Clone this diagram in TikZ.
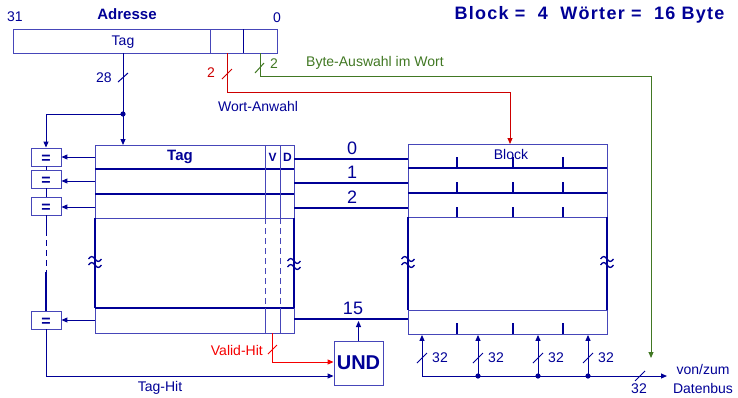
\documentclass[tikz,border=0pt]{standalone}
\usepackage{fontspec}
\setmainfont{Liberation Sans}
\usetikzlibrary{arrows.meta}
\definecolor{bl}{RGB}{0,0,150}
\definecolor{lbl}{RGB}{70,70,185}
\definecolor{gr}{RGB}{65,120,35}
\definecolor{rd}{RGB}{205,0,0}
\definecolor{rdt}{RGB}{245,0,0}
\newcommand{\wavemark}[2]{%
  \draw[draw=bl,line width=1.3pt] (#1-6.5,#2-3) sin (#1-3.25,#2-5.5) cos (#1,#2-3) sin (#1+3.25,#2-0.5) cos (#1+6.5,#2-3);
  \draw[draw=bl,line width=1.3pt] (#1-6.5,#2+3) sin (#1-3.25,#2+0.5) cos (#1,#2+3) sin (#1+3.25,#2+5.5) cos (#1+6.5,#2+3);}
\begin{document}
\begin{tikzpicture}[x=1pt,y=-1pt,
  font=\fontsize{14}{16}\selectfont,
  lbox/.style={draw=lbl,line width=0.9pt,inner sep=0pt},
  sep/.style={draw=bl,line width=1.3pt},
  thk/.style={draw=bl,line width=2pt},
  conn/.style={draw=bl,line width=1pt},
  arr/.style={-{Triangle[length=6pt,width=5pt]}},
  bt/.style={text=bl,inner sep=0pt},
  eqbox/.style={lbox,minimum width=30pt,minimum height=18pt},
  tick/.style={draw=bl,line width=1.5pt},
  num/.style={text=bl,inner sep=0pt,font=\fontsize{18}{18}\selectfont}]
\useasboundingbox (0,0) rectangle (738,397);

% ---------- address ----------
\node[bt] (n31) at (15,17) {31};
\node[bt,font=\bfseries\fontsize{15}{15}\selectfont] (adr) at (127,14) {Adresse};
\node[bt] (n0) at (277,18) {0};
\node[bt,font=\bfseries\fontsize{18}{18}\selectfont\addfontfeature{LetterSpace=7}] (title) at (589.5,15) {Block =\ \ 4\ \ Wörter =\ \ 16 Byte};
\node[lbox,minimum width=264pt,minimum height=24pt,anchor=north west] (addr) at (13,29) {};
\draw[draw=lbl,line width=0.9pt] (210,29) -- (210,53);
\draw[draw=bl,line width=0.9pt] (243,29) -- (243,53);
\node[bt] (tagf) at (123,42) {Tag};

% ---------- tag array ----------
\node[lbox,minimum width=199pt,minimum height=73pt,anchor=north west] (tagarr) at (95,145) {};
\draw[sep] (95,169) -- (294,169);
\draw[sep] (95,194) -- (294,194);
\draw[lbox] (265,145) -- (265,218);
\draw[lbox] (280,145) -- (280,218);
\node[bt,font=\bfseries\fontsize{15}{15}\selectfont] (tagh) at (180,157) {Tag};
\node[bt,font=\bfseries\fontsize{12}{12}\selectfont] (vh) at (272.5,157) {V};
\node[bt,font=\bfseries\fontsize{12}{12}\selectfont] (dh) at (287.5,157) {D};
\draw[thk] (95,218) -- (95,308);
\draw[thk] (294,218) -- (294,308);
\draw[lbox,dash pattern=on 6pt off 4pt] (265,218) -- (265,308);
\draw[lbox,dash pattern=on 6pt off 4pt] (280,218) -- (280,308);
\node[lbox,minimum width=199pt,minimum height=25pt,anchor=north west] (tagrow) at (95,308) {};
\draw[sep] (95,308) -- (294,308);
\draw[lbox] (265,308) -- (265,333);
\draw[lbox] (280,308) -- (280,333);
\wavemark{95}{262}
\wavemark{294}{264}

% ---------- comparators ----------
\node[eqbox] (eq1) at (46,157) {};
\node[eqbox] (eq2) at (46,179) {};
\node[eqbox] (eq3) at (46,206) {};
\node[eqbox] (eq4) at (46,320) {};
\foreach \e in {eq1,eq2,eq3,eq4}
  \node[bt,font=\bfseries\fontsize{16}{16}\selectfont] at ([yshift=-2.5pt]\e.center) {=};
\coordinate (a1) at (95,157);
\coordinate (a2) at (95,181);
\coordinate (a3) at (95,207);
\coordinate (a4) at (95,320);
\draw[conn,arr] (a1) -- (eq1.east |- a1);
\draw[conn,arr] (a2) -- (eq2.east |- a2);
\draw[conn,arr] (a3) -- (eq3.east |- a3);
\draw[conn,arr] (a4) -- (eq4.east |- a4);
\draw[conn] (eq1.south) -- (eq2.north);
\draw[conn] (eq2.south) -- (eq3.north);
\coordinate (d1) at (46,230);
\coordinate (d2) at (46,272);
\draw[conn] (eq3.south) -- (d1);
\draw[conn,dash pattern=on 6pt off 4pt] (d1) -- (d2);
\draw[line width=2pt,draw=bl] (d2) -- (eq4.north);

% tag path
\coordinate (tsrc) at (123,53);
\coordinate (J) at (123,114);
\draw[conn] (tsrc) -- (J);
\fill[bl] (J) circle (2.6pt);
\draw[conn,arr] (J) -- (tagarr.north -| J);
\draw[conn,arr] (J) -| (eq1.north);
\draw[conn] (118,82) -- (128,73);
\node[bt] (n28) at (104,78) {28};

% ---------- block array ----------
\node[lbox,minimum width=199pt,minimum height=73pt,anchor=north west] (blk) at (408,144) {};
\draw[sep] (408,168) -- (607,168);
\draw[sep] (408,193) -- (607,193);
\node[bt] (blkt) at (511,154) {Block};
\foreach \x in {457,513,563} {
  \draw[tick] (\x,157) -- (\x,168);
  \draw[tick] (\x,182) -- (\x,193);
  \draw[tick] (\x,207) -- (\x,217);
  \draw[tick] (\x,323) -- (\x,334);
}
\draw[thk] (408,217) -- (408,310);
\draw[thk] (607,217) -- (607,310);
\node[lbox,minimum width=199pt,minimum height=24pt,anchor=north west] (blkrow) at (408,310) {};
\wavemark{408}{262}
\wavemark{607}{262}

% row lines
\draw[thk] (294,159) -- (408,159);
\draw[thk] (294,183) -- (408,183);
\draw[thk] (294,208) -- (408,208);
\draw[thk] (294,319) -- (408,319);
\node[num] (r0) at (352,148) {0};
\node[num] (r1) at (352,172) {1};
\node[num] (r2) at (352,197) {2};
\node[num] (r15) at (353,308) {15};

% ---------- word select (red) ----------
\coordinate (rsrc) at (227,53);
\coordinate (rk) at (510,92);
\draw[draw=rd,line width=1pt,arr] (rsrc) |- (rk) -- (blk.north -| rk);
\draw[draw=rd,line width=1pt] (222,79) -- (232,69);
\node[bt,text=rd] (r2l) at (211,73) {2};
\node[bt] (wa) at (258,106) {Wort-Anwahl};

% ---------- byte select (green) ----------
\coordinate (gsrc) at (260,53);
\coordinate (gk) at (651,76);
\coordinate (gend) at (651,358);
\draw[draw=gr,line width=1pt,arr] (gsrc) |- (gk) -- (gend);
\draw[draw=gr,line width=1pt] (255,73) -- (264,63);
\node[bt,text=gr] (g2) at (274,64) {2};
\node[bt,text=gr,anchor=west] (ba) at (306,63) {Byte-Auswahl im Wort};

% ---------- UND ----------
\node[lbox,minimum width=49pt,minimum height=44pt,font=\bfseries\fontsize{20}{20}\selectfont,text=bl] (und) at (358.5,363) {UND};
\coordinate (u15) at (358.5,321);
\draw[conn,arr] (und.north) -- (u15);
\coordinate (yTH) at (0,376);
\coordinate (yVH) at (0,362);
\draw[conn,arr] (eq4.south) |- (und.west |- yTH);
\node[bt] (th) at (160,388) {Tag-Hit};
\coordinate (vsrc) at (272,333);
\draw[draw=rdt,line width=1pt,arr] (vsrc) |- (und.west |- yVH);
\draw[draw=rdt,line width=0.8pt] (268,354) -- (277,345);
\node[bt,text=rdt,anchor=east] (vhl) at (263,350) {Valid-Hit};

% ---------- data bus ----------
\coordinate (b1) at (422,376);
\coordinate (b2) at (478,376);
\coordinate (b3) at (538,376);
\coordinate (b4) at (588,376);
\coordinate (bend) at (667,376);
\coordinate (yS) at (0,358);
\draw[conn,arr] (b1) -- (bend);
\foreach \b in {b1,b2,b3,b4} {
  \draw[conn,arr] (\b) -- (blkrow.south -| \b);
  \path (\b |- yS) coordinate (s);
  \draw[conn] ([xshift=-5pt,yshift=-5pt]s) -- ([xshift=5pt,yshift=5pt]s);
  \node[bt] at ([xshift=18pt]s) {32};
}
\foreach \b in {b2,b3,b4} \fill[bl] (\b) circle (2.6pt);
\draw[conn] (635,381) -- (645,371);
\node[bt] (n32) at (639,388.5) {32};
\node[bt] (vz) at (703,369) {von/zum};
\node[bt] (db) at (703,388) {Datenbus};
\end{tikzpicture}
\end{document}
